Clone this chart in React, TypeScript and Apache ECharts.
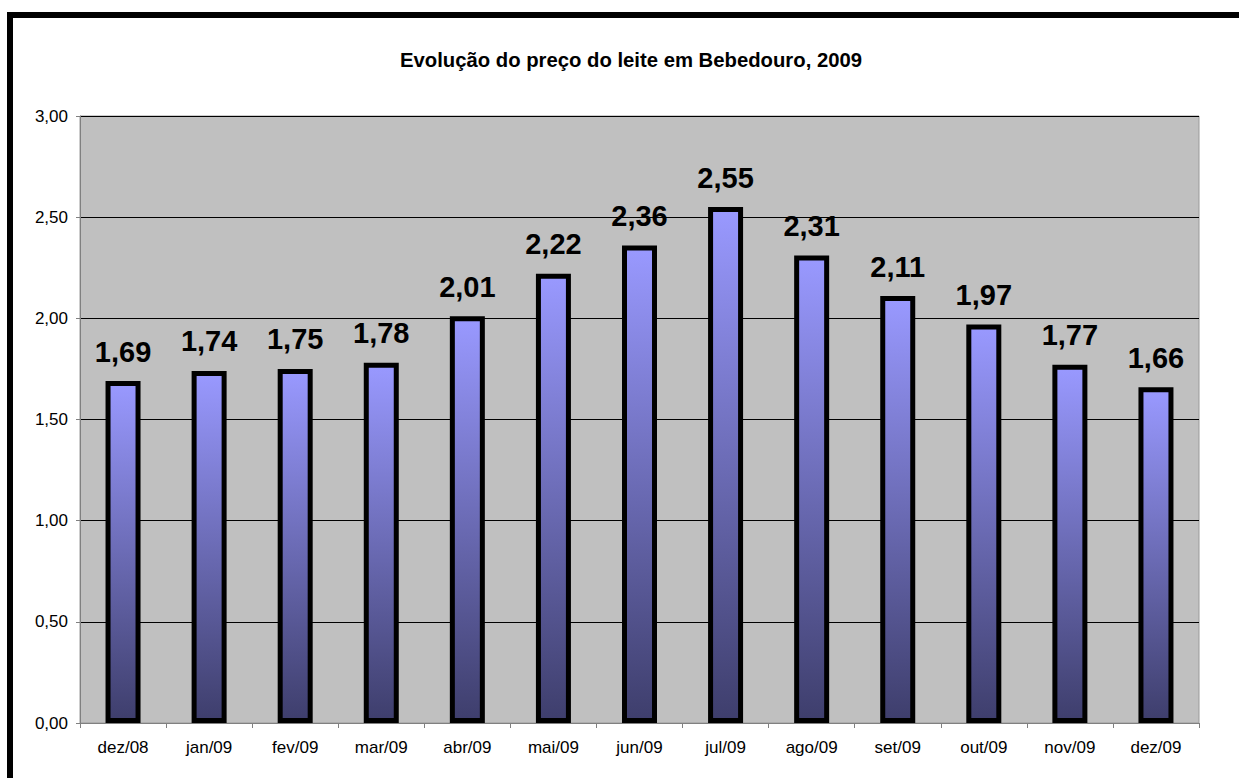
import React, { useEffect, useRef } from "react";
import * as echarts from "echarts";

const categories = ["dez/08", "jan/09", "fev/09", "mar/09", "abr/09", "mai/09", "jun/09", "jul/09", "ago/09", "set/09", "out/09", "nov/09", "dez/09"];
const prices = [1.69, 1.74, 1.75, 1.78, 2.01, 2.22, 2.36, 2.55, 2.31, 2.11, 1.97, 1.77, 1.66];
const titleText = "Evolução do preço do leite em Bebedouro, 2009";

const FONT = "Arial, 'Liberation Sans', sans-serif";
const fmt = (v: number) => v.toFixed(2).replace(".", ",");

export default function App() {
  const ref = useRef<HTMLDivElement>(null);
  useEffect(() => {
    if (!ref.current) return;
    const chart = echarts.init(ref.current, null, { renderer: "svg" });
    chart.setOption({
      animation: false,
      backgroundColor: "#ffffff",
      title: {
        text: titleText,
        left: 626,
        textAlign: "center",
        top: 45,
        textStyle: { fontFamily: FONT, fontSize: 20.3, fontWeight: "bold", color: "#000" },
      },
      graphic: [
        {
          type: "rect",
          shape: { x: 10, y: 15, width: 1400, height: 1000 },
          style: { fill: "none", stroke: "#000", lineWidth: 6 },
          silent: true,
        },
      ],
      grid: {
        left: 80,
        top: 116,
        width: 1119,
        height: 607,
        show: true,
        backgroundColor: "#C0C0C0",
        borderColor: "#9a9a9a",
        borderWidth: 1,
        containLabel: false,
      },
      xAxis: {
        type: "category",
        data: categories,
        axisLine: { lineStyle: { color: "#808080", width: 1 } },
        axisTick: { show: true, length: 5, lineStyle: { color: "#808080" } },
        axisLabel: { fontFamily: FONT, fontSize: 17, color: "#000", margin: 16 },
      },
      yAxis: {
        type: "value",
        min: 0,
        max: 3,
        interval: 0.5,
        axisLine: { show: true, lineStyle: { color: "#808080", width: 1 } },
        axisTick: { show: true, length: 4, lineStyle: { color: "#808080" } },
        splitLine: { show: true, lineStyle: { color: "#000", width: 1 } },
        axisLabel: {
          fontFamily: FONT,
          fontSize: 17,
          color: "#000",
          margin: 12,
          formatter: (v: number) => fmt(v),
        },
      },
      series: [
        {
          type: "bar",
          data: prices,
          barWidth: 35,
          itemStyle: {
            color: new echarts.graphic.LinearGradient(0, 0, 0, 1, [
              { offset: 0, color: "#9999FF" },
              { offset: 1, color: "#3e3e6c" },
            ]),
            borderColor: "#000",
            borderWidth: 5,
          },
          label: {
            show: true,
            position: "top",
            distance: 15,
            fontFamily: FONT,
            fontSize: 29,
            fontWeight: "bold",
            color: "#000",
            formatter: (p: any) => fmt(p.value),
          },
        },
      ],
    });
    return () => chart.dispose();
  }, []);
  return (
    <div
      ref={ref}
      style={{ position: "fixed", left: 0, top: 0, width: 1239, height: 778 }}
    />
  );
}
